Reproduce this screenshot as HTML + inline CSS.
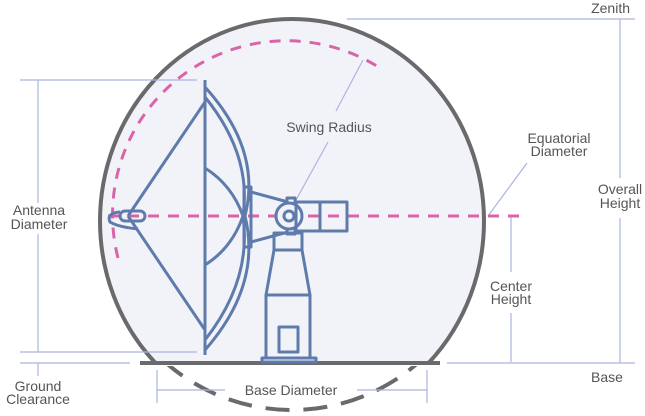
<!DOCTYPE html>
<html><head><style>
html,body{margin:0;padding:0;background:#fff;}
svg{display:block;}
text{font-family:"Liberation Sans",sans-serif;font-size:14px;fill:#555;}
</style></head><body>
<svg width="645" height="416" viewBox="0 0 645 416" xmlns="http://www.w3.org/2000/svg">
<defs>
<clipPath id="top"><rect x="0" y="0" width="645" height="363"/></clipPath>
<clipPath id="bot"><rect x="0" y="366" width="645" height="60"/></clipPath>
</defs>
<!-- radome -->
<ellipse cx="292" cy="221" rx="192" ry="202" fill="#f2f3f9" stroke="#6a6a6d" stroke-width="4" clip-path="url(#top)"/>
<ellipse cx="292" cy="218" rx="192" ry="192" fill="none" stroke="#6a6a6d" stroke-width="4" stroke-dasharray="24,14" clip-path="url(#bot)"/>
<line x1="140" y1="363" x2="440" y2="363" stroke="#6a6a6d" stroke-width="4"/>

<!-- dimension lines -->
<g stroke="#aab5e0" stroke-width="1.2" fill="none">
<line x1="347" y1="19" x2="635" y2="19"/>
<line x1="620" y1="19" x2="620" y2="178"/>
<line x1="620" y1="218" x2="620" y2="363"/>
<line x1="447" y1="363" x2="635" y2="363"/>
<line x1="511" y1="217" x2="511" y2="272"/>
<line x1="511" y1="313" x2="511" y2="362"/>
<line x1="20" y1="80" x2="197" y2="80"/>
<line x1="20" y1="352" x2="197" y2="352"/>
<line x1="38" y1="80" x2="38" y2="203"/>
<line x1="38" y1="234" x2="38" y2="352"/>
<line x1="20" y1="363" x2="130" y2="363"/>
<line x1="38" y1="363" x2="38" y2="376"/>
<line x1="157" y1="370" x2="157" y2="403"/>
<line x1="427" y1="370" x2="427" y2="403"/>
<line x1="157" y1="390" x2="225" y2="390"/>
<line x1="357" y1="390" x2="427" y2="390"/>
<line x1="296" y1="200" x2="328" y2="142"/>
<line x1="336" y1="111" x2="363" y2="60"/>
<line x1="488" y1="216" x2="527" y2="163"/>
</g>

<!-- swing radius -->
<path d="M118,258 A174,174 0 0 1 380,68" fill="none" stroke="#d964a8" stroke-width="3" stroke-dasharray="11,9"/>
<line x1="108" y1="216" x2="522" y2="216" stroke="#d964a8" stroke-width="3" stroke-dasharray="11,9"/>

<!-- antenna -->
<g stroke="#5e7bab" stroke-width="3" fill="none" stroke-linejoin="round">
<line x1="205" y1="80" x2="205" y2="355"/>
<line x1="128" y1="216" x2="205" y2="102"/>
<line x1="128" y1="216" x2="205" y2="330"/>
<path d="M205,87 Q262,150 245,216 Q262,285 205,350"/>
<path d="M205,97 Q252,155 243,216 Q252,280 205,340"/>
<path d="M205,168 Q232,185 243,216 Q232,248 205,265"/>
<rect x="120" y="211" width="25" height="10" rx="5"/>
<path d="M120,212 Q106,213 110,222 Q118,227 138,229"/>
<rect x="244" y="187" width="7" height="60"/>
<path d="M251,192 L288,202 M251,242 L288,232"/>
<rect x="287" y="198" width="8" height="36"/>
<circle cx="289" cy="216" r="13" fill="#f2f3f9"/>
<circle cx="289" cy="216" r="5"/>
<rect x="296" y="202" width="51" height="29"/>
<line x1="320" y1="202" x2="320" y2="231"/>
<rect x="274" y="233" width="28" height="17"/>
<path d="M274,250 L266,295 L310,295 L302,250"/>
<rect x="266" y="295" width="44" height="63"/>
<rect x="279" y="327" width="19" height="25"/>
<rect x="262" y="358" width="54" height="4"/>
</g>

<!-- labels -->
<text x="630" y="13" text-anchor="end">Zenith</text>
<text x="620" y="194" text-anchor="middle">Overall</text>
<text x="620" y="208" text-anchor="middle">Height</text>
<text x="607" y="382" text-anchor="middle">Base</text>
<text x="511" y="291" text-anchor="middle">Center</text>
<text x="511" y="304" text-anchor="middle">Height</text>
<text x="559" y="143" text-anchor="middle">Equatorial</text>
<text x="559" y="156" text-anchor="middle">Diameter</text>
<text x="329" y="132" text-anchor="middle">Swing Radius</text>
<text x="39" y="215" text-anchor="middle">Antenna</text>
<text x="39" y="229" text-anchor="middle">Diameter</text>
<text x="38" y="391" text-anchor="middle">Ground</text>
<text x="38" y="404" text-anchor="middle">Clearance</text>
<text x="291" y="395" text-anchor="middle">Base Diameter</text>
</svg>
</body></html>
